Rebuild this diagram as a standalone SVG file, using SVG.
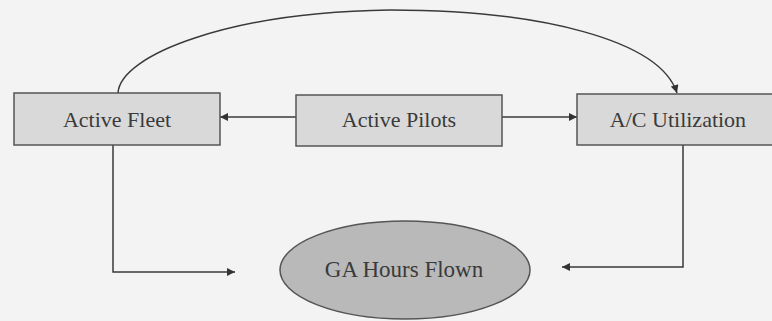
<svg xmlns="http://www.w3.org/2000/svg" width="772" height="321" viewBox="0 0 772 321">
<style>
.box{fill:#d9d9d9;stroke:#555;stroke-width:1.5}
.ell{fill:#b9b9b9;stroke:#555;stroke-width:1.5}
.lbl{font-family:"Liberation Serif","Times New Roman",serif;font-size:22px;fill:#3a3a3a;text-anchor:middle}
.con{fill:none;stroke:#3a3a3a;stroke-width:1.5}
</style>
<defs>
<marker id="ah" viewBox="0 0 10 10" refX="10" refY="5" markerWidth="9" markerHeight="8" markerUnits="userSpaceOnUse" orient="auto">
<path d="M0,0 L10,5 L0,10 Z" fill="#333"/>
</marker>
</defs>
<rect width="772" height="321" fill="#f3f3f3"/>
<g id="connectors">
<path class="con" d="M118,93 C120,55 230,12 390,10 C540,10 660,40 677,93" marker-end="url(#ah)"/>
<path class="con" d="M296,117 L220,117" marker-end="url(#ah)"/>
<path class="con" d="M502,117 L577,117" marker-end="url(#ah)"/>
<path class="con" d="M113,145 L113,272 L235,272" marker-end="url(#ah)"/>
<path class="con" d="M683,145 L683,267 L562,267" marker-end="url(#ah)"/>
</g>
<g id="active-fleet">
<rect class="box" x="14" y="93" width="206" height="52"/>
<text class="lbl" x="117" y="127">Active Fleet</text>
</g>
<g id="active-pilots">
<rect class="box" x="296" y="95" width="206" height="51"/>
<text class="lbl" x="399" y="127">Active Pilots</text>
</g>
<g id="ac-utilization">
<rect class="box" x="577" y="94" width="200" height="51"/>
<text class="lbl" x="678" y="127">A/C Utilization</text>
</g>
<g id="ga-hours-flown">
<ellipse class="ell" cx="405" cy="270" rx="125" ry="49"/>
<text class="lbl" x="404" y="277" style="font-size:23px">GA Hours Flown</text>
</g>
</svg>
